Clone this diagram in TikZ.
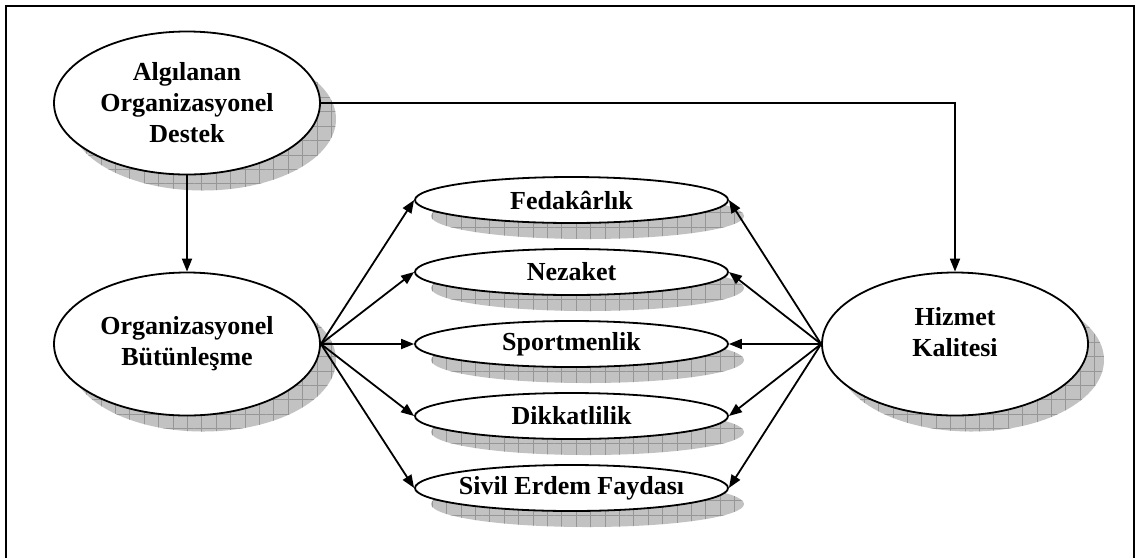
\documentclass[tikz,border=0pt]{standalone}
\usepackage{fontspec}
\setmainfont{Liberation Serif}
\usetikzlibrary{shapes.geometric,arrows.meta,patterns.meta}
\definecolor{shc}{RGB}{194,194,194}
\definecolor{grc}{RGB}{150,150,150}
\tikzset{
  shad/.style={
    preaction={fill=shc, transform canvas={xshift=8pt,yshift=-8pt}},
    preaction={pattern={Lines[angle=0,distance=7.2pt,line width=0.3pt]}, pattern color=grc, transform canvas={xshift=8pt,yshift=-8pt}},
    preaction={pattern={Lines[angle=90,distance=7.2pt,line width=0.3pt]}, pattern color=grc, transform canvas={xshift=8pt,yshift=-8pt}}},
  txt/.style={font=\bfseries\fontsize{13}{15.5}\selectfont, align=center},
  bigell/.style={ellipse, draw, line width=0.9pt, fill=white, shad, minimum width=133pt, minimum height=71.5pt, inner sep=0pt, txt},
  smallell/.style={ellipse, draw, line width=0.9pt, fill=white, shad, minimum width=156.5pt, minimum height=23pt, inner sep=0pt, txt},
  arr/.style={line width=0.9pt, -{Triangle[length=6.5pt,width=5pt]}},
  frame/.style={line width=1pt}
}
\begin{document}
\begin{tikzpicture}[x=0.5pt,y=-0.5pt]
\useasboundingbox (0,0) rectangle (1138,558);
\coordinate (bl) at (6,558);
\coordinate (tl) at (6,6);
\coordinate (tr) at (1134,6);
\coordinate (br) at (1134,558);
\draw[frame] (bl) -- (tl) -- (tr) -- (br);

\node[bigell] (a) at (187,103) {Algılanan\\Organizasyonel\\Destek};
\node[bigell] (o) at (187,344) {Organizasyonel\\Bütünleşme};
\node[bigell, label={[txt, yshift=6pt]center:Hizmet\\Kalitesi}] (h) at (955,344) {};

\node[smallell] (s1) at (571.5,200) {\makebox[0pt]{Fedakârlık}};
\node[smallell] (s2) at (571.5,272) {\makebox[0pt]{Nezaket}};
\node[smallell] (s3) at (571.5,344) {\makebox[0pt]{Sportmenlik}};
\node[smallell] (s4) at (571.5,416) {\makebox[0pt]{Dikkatlilik}};
\node[smallell] (s5) at (571.5,488) {\makebox[0pt]{Sivil Erdem Faydası}};

\draw[arr] (a.east) -| (h.north);
\draw[arr] (a.south) -- (o.north);
\foreach \s in {s1,s2,s3,s4,s5}{
  \draw[arr] (o.east) -- (\s.west);
  \draw[arr] (h.west) -- (\s.east);
}
\end{tikzpicture}
\end{document}
